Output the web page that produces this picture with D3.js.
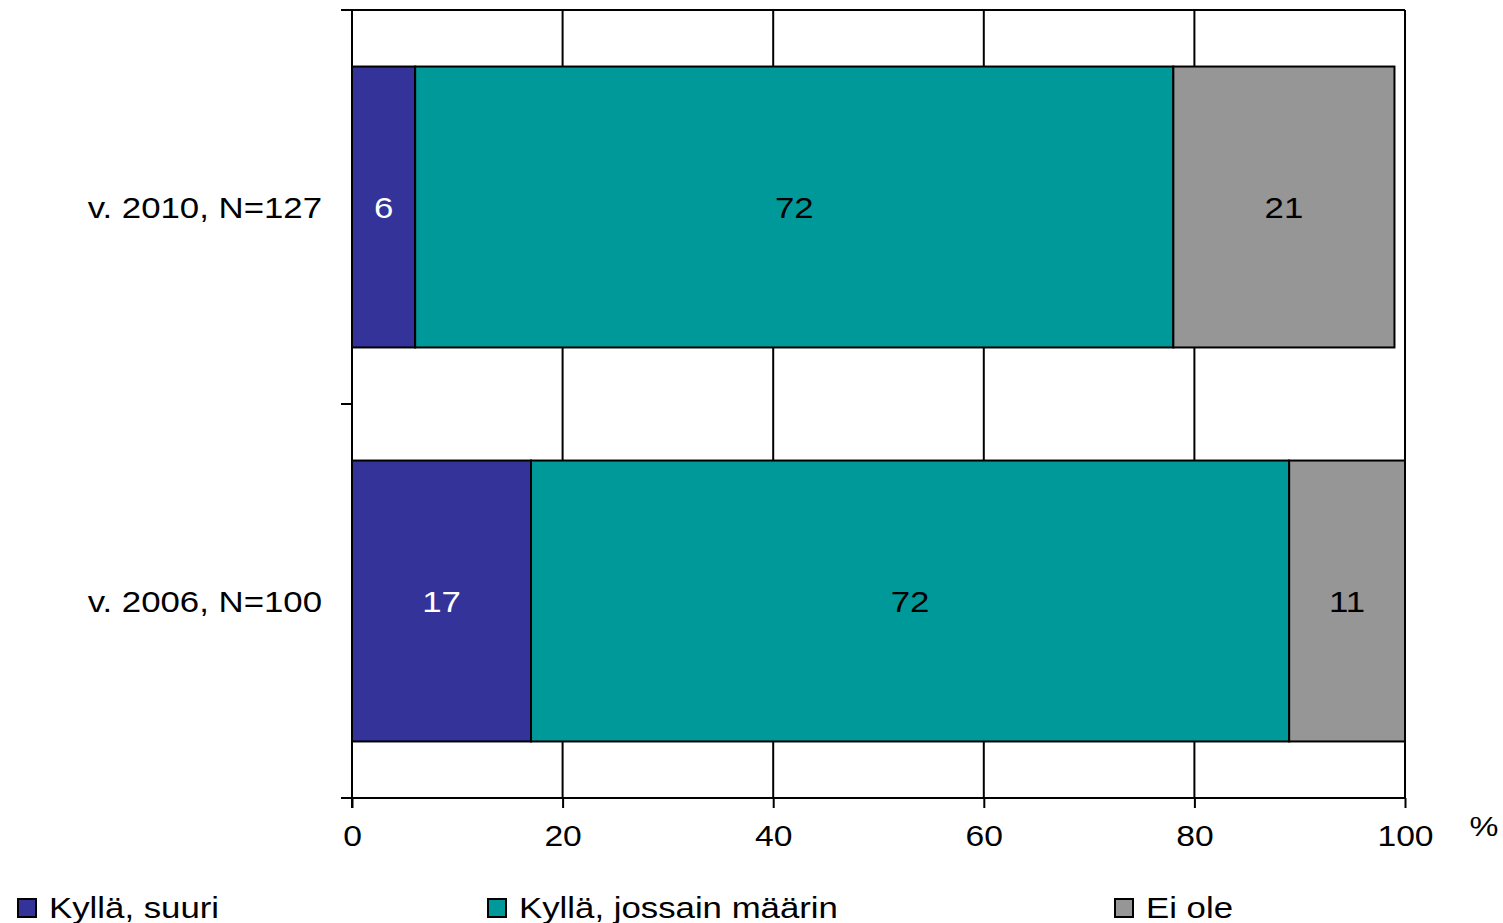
<!DOCTYPE html>
<html>
<head>
<meta charset="utf-8">
<script src="https://cdn.jsdelivr.net/npm/d3@7"></script>
<style>
  body { margin: 0; background: #fff; }
  svg { display: block; font-family: "Liberation Sans", Arial, sans-serif; }
</style>
</head>
<body>
<svg id="chart" width="1503" height="923"></svg>
<script>
// data
var categories = ["v. 2010, N=127", "v. 2006, N=100"];
var seriesNames = ["Kyllä, suuri", "Kyllä, jossain määrin", "Ei ole"];
var seriesColors = ["#333399", "#009999", "#969696"];
var labelColors = ["#ffffff", "#000000", "#000000"];
var suuri = [6, 17];
var jossain = [72, 72];
var eiOle = [21, 11];
var xTicks = [0, 20, 40, 60, 80, 100];

// the original text is a bit wider than Liberation Sans
var SX = 1.16;
function stretch(sel) {
  sel.each(function() {
    var t = d3.select(this);
    var tx = +t.attr("x") || 0, ty = +t.attr("y") || 0;
    t.attr("x", null).attr("y", null)
      .attr("transform", "translate(" + tx + "," + ty + ") scale(" + SX + ",1)");
  });
}

var svg = d3.select("#chart");

var x = d3.scaleLinear().domain([0, 100]).range([352, 1405]);
var y = d3.scaleBand()
  .domain(categories)
  .range([10, 798])
  .paddingInner(0.287)
  .paddingOuter(0.1435);

// stacked rows
var rows = categories.map(function(c, i) {
  return { cat: c, "Kyllä, suuri": suuri[i], "Kyllä, jossain määrin": jossain[i], "Ei ole": eiOle[i] };
});
var stack = d3.stack().keys(seriesNames)(rows);

// frame + gridlines
var grid = svg.append("g");
xTicks.slice(1).forEach(function(t) {
  grid.append("line")
    .attr("x1", x(t)).attr("x2", x(t))
    .attr("y1", 10).attr("y2", 798)
    .attr("stroke", "#000").attr("stroke-width", 2);
});
grid.append("line")
  .attr("x1", 341).attr("x2", x(100))
  .attr("y1", 10).attr("y2", 10)
  .attr("stroke", "#000").attr("stroke-width", 2);

// bars
stack.forEach(function(layer, si) {
  svg.append("g").selectAll("rect")
    .data(layer)
    .enter()
    .append("rect")
    .attr("x", function(d) { return x(d[0]); })
    .attr("y", function(d) { return y(d.data.cat); })
    .attr("width", function(d) { return x(d[1]) - x(d[0]); })
    .attr("height", y.bandwidth())
    .attr("fill", seriesColors[si])
    .attr("stroke", "#000")
    .attr("stroke-width", 2);

  svg.append("g").selectAll("text")
    .data(layer)
    .enter()
    .append("text")
    .attr("x", function(d) { return (x(d[0]) + x(d[1])) / 2; })
    .attr("y", function(d) { return y(d.data.cat) + y.bandwidth() / 2 + 11; })
    .attr("text-anchor", "middle")
    .attr("font-size", "30px")
    .attr("fill", labelColors[si])
    .text(function(d) { return d[1] - d[0]; })
    .call(stretch);
});

// x axis
var xAxis = svg.append("g")
  .attr("transform", "translate(0,798)")
  .call(d3.axisBottom(x).tickValues(xTicks).tickSize(10).tickPadding(16).tickSizeOuter(0));
xAxis.select(".domain").attr("stroke-width", 2).attr("d", "M341,0H" + x(100));
xAxis.selectAll(".tick line").attr("stroke-width", 2);
xAxis.selectAll(".tick text")
  .attr("font-size", "29px")
  .attr("font-family", "Liberation Sans, Arial, sans-serif")
  .attr("fill", "#000")
  .attr("dy", null)
  .attr("y", 48)
  .call(stretch);

svg.append("text")
  .attr("x", 1484).attr("y", 836)
  .attr("text-anchor", "middle")
  .attr("font-size", "28px")
  .text("%")
  .call(stretch);

// y axis
svg.append("line")
  .attr("x1", 352).attr("x2", 352)
  .attr("y1", 10).attr("y2", 808)
  .attr("stroke", "#000").attr("stroke-width", 2);
[0, 1, 2].forEach(function(i) {
  var yy = y.range()[0] + i * y.step();
  svg.append("line")
    .attr("x1", 341).attr("x2", 352)
    .attr("y1", yy).attr("y2", yy)
    .attr("stroke", "#000").attr("stroke-width", 2);
});
svg.append("g").selectAll("text")
  .data(categories)
  .enter()
  .append("text")
  .attr("x", 322)
  .attr("y", function(d) { return y(d) + y.bandwidth() / 2 + 11; })
  .attr("text-anchor", "end")
  .attr("font-size", "30px")
  .text(function(d) { return d; })
  .call(stretch);

// legend
var legendX = [18, 488, 1115];
var legend = svg.append("g").selectAll("g")
  .data(seriesNames)
  .enter()
  .append("g")
  .attr("transform", function(d, i) { return "translate(" + legendX[i] + ",899)"; });
legend.append("rect")
  .attr("width", 18).attr("height", 18)
  .attr("fill", function(d, i) { return seriesColors[i]; })
  .attr("stroke", "#000").attr("stroke-width", 2);
legend.append("text")
  .attr("x", 31).attr("y", 19)
  .attr("font-size", "30px")
  .text(function(d) { return d; })
  .call(stretch);
</script>
</body>
</html>
